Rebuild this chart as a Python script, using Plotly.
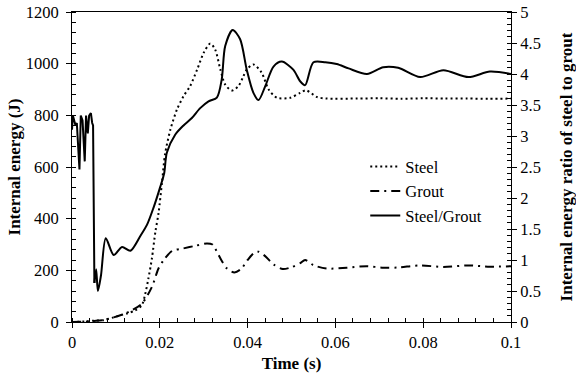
import plotly.graph_objects as go

# ---- data ----
steel_t = [0, 0.003, 0.005, 0.0072, 0.0095, 0.0110, 0.0125, 0.0144, 0.0159, 0.0167, 0.0174,
           0.0182, 0.0190, 0.0197, 0.0205, 0.0212, 0.0224, 0.0239, 0.0254, 0.0269, 0.0285,
           0.0300, 0.0315, 0.0326, 0.0338, 0.0349, 0.0364, 0.0379, 0.0390, 0.0398, 0.0413,
           0.0432, 0.0448, 0.0467, 0.0497, 0.0520, 0.0533, 0.0558, 0.0580, 0.065, 0.070,
           0.075, 0.080, 0.085, 0.090, 0.095, 0.100]
steel_e = [0, 2, 5, 7, 18, 26, 33, 45, 65, 110, 168,
           246, 350, 420, 540, 650, 744, 822, 874, 913, 977,
           1042, 1078, 1055, 977, 919, 896, 913, 950, 977, 997,
           965, 900, 868, 868, 887, 897, 871, 865, 865, 866,
           864, 866, 865, 865, 864, 865]

grout_t = [0, 0.003, 0.005, 0.0072, 0.0095, 0.0110, 0.0130, 0.0159, 0.0182, 0.0197, 0.0209,
           0.0228, 0.0254, 0.0281, 0.0307, 0.0320, 0.0326, 0.0340, 0.0353, 0.0370, 0.0385,
           0.0400, 0.0415, 0.0425, 0.0440, 0.0460, 0.0480, 0.0500, 0.0520, 0.0531, 0.0550,
           0.0580, 0.0626, 0.0672, 0.0709, 0.0743, 0.0793, 0.0846, 0.0903, 0.0952, 0.100]
grout_e = [0, 1, 4, 8, 18, 26, 40, 71, 136, 207, 240,
           275, 285, 295, 304, 300, 285, 240, 207, 192, 205,
           240, 268, 272, 255, 222, 205, 212, 228, 240, 220,
           207, 210, 216, 210, 211, 219, 213, 219, 214, 216]

ratio_t = [0, 0.0002, 0.0008, 0.0011, 0.0017, 0.0020, 0.0024, 0.0029, 0.0032, 0.0036, 0.0039,
           0.0043, 0.0046, 0.0048, 0.0051, 0.0055, 0.0059, 0.0066, 0.0077, 0.0095, 0.0114,
           0.0133, 0.0155, 0.0171, 0.0186, 0.0201, 0.0210, 0.0216, 0.0235, 0.0254, 0.0273,
           0.0292, 0.0311, 0.0330, 0.0341, 0.0349, 0.0366, 0.0383, 0.0398, 0.0413, 0.0425,
           0.0440, 0.0459, 0.0478, 0.0504, 0.0520, 0.0531, 0.0550, 0.0577, 0.0603, 0.0630,
           0.0672, 0.0709, 0.0743, 0.0793, 0.0846, 0.0903, 0.0952, 0.100]
ratio_v = [3.10, 3.33, 3.17, 3.21, 2.46, 3.33, 3.25, 2.59, 3.33, 3.04, 3.33,
           3.37, 3.21, 3.17, 0.63, 0.85, 0.50, 0.75, 1.35, 1.08, 1.21,
           1.15, 1.38, 1.57, 1.85, 2.18, 2.40, 2.73, 3.02, 3.17, 3.29,
           3.45, 3.56, 3.62, 3.91, 4.45, 4.71, 4.56, 4.07, 3.70, 3.58,
           3.80, 4.12, 4.20, 4.07, 3.88, 3.82, 4.19, 4.19, 4.16, 4.09,
           4.00, 4.11, 4.10, 3.95, 4.06, 3.95, 4.04, 4.00]

x_tickvals = [0, 0.02, 0.04, 0.06, 0.08, 0.1]
x_ticktext = ["0", "0.02", "0.04", "0.06", "0.08", "0.1"]

FONT = "Liberation Serif"
SPLIT = 14  # noisy early part drawn straight, rest smoothed

fig = go.Figure()
fig.add_trace(go.Scatter(x=steel_t, y=steel_e, name="Steel", mode="lines",
                         line=dict(color="black", width=2, dash="2px,3px",
                                   shape="spline", smoothing=0.8)))
fig.add_trace(go.Scatter(x=grout_t, y=grout_e, name="Grout", mode="lines",
                         line=dict(color="black", width=2, dash="9px,5px,2px,5px",
                                   shape="spline", smoothing=0.8)))
fig.add_trace(go.Scatter(x=ratio_t[:SPLIT + 1], y=ratio_v[:SPLIT + 1], name="Steel/Grout",
                         mode="lines", yaxis="y2", showlegend=False, legendgroup="sg",
                         line=dict(color="black", width=2)))
fig.add_trace(go.Scatter(x=ratio_t[SPLIT:], y=ratio_v[SPLIT:], name="Steel/Grout",
                         mode="lines", yaxis="y2", legendgroup="sg",
                         line=dict(color="black", width=2, shape="spline", smoothing=0.8)))

axis_common = dict(showline=True, linecolor="black", linewidth=1, showgrid=False,
                   zeroline=False, ticks="outside", ticklen=5, tickcolor="black",
                   automargin=False,
                   tickfont=dict(family=FONT, size=16.5, color="black"))
TITLE_FONT = dict(family=FONT, size=17, color="black")

fig.update_layout(
    width=576, height=377,
    margin=dict(l=72, r=65, t=12, b=55),
    paper_bgcolor="white", plot_bgcolor="white",
    font=dict(family=FONT, size=16, color="black"),
    xaxis=dict(range=[0, 0.1], tickvals=x_tickvals, ticktext=x_ticktext, mirror=True,
               ticklabelstandoff=0,
               minor=dict(dtick=0.004, ticks="inside", ticklen=4, tickcolor="black"),
               title=dict(text="<b>Time (s)</b>", font=TITLE_FONT, standoff=6),
               **axis_common),
    yaxis=dict(range=[0, 1200], dtick=200, ticklabelstandoff=4,
               minor=dict(dtick=40, ticks="inside", ticklen=4, tickcolor="black"),
               title=dict(text="<b>Internal energy (J)</b>", font=TITLE_FONT, standoff=0),
               **axis_common),
    yaxis2=dict(range=[0, 5], dtick=0.5, overlaying="y", side="right",
                minor=dict(dtick=0.1, ticks="inside", ticklen=4, tickcolor="black"),
                title=dict(text="<b>Internal energy ratio of steel to grout</b>",
                           font=TITLE_FONT, standoff=26),
                **axis_common),
    legend=dict(x=0.668, y=0.557, xanchor="left", yanchor="top", bgcolor="rgba(0,0,0,0)",
                font=dict(family=FONT, size=16.5, color="black"), tracegroupgap=0),
    showlegend=True,
)

fig.write_html("out.html")
